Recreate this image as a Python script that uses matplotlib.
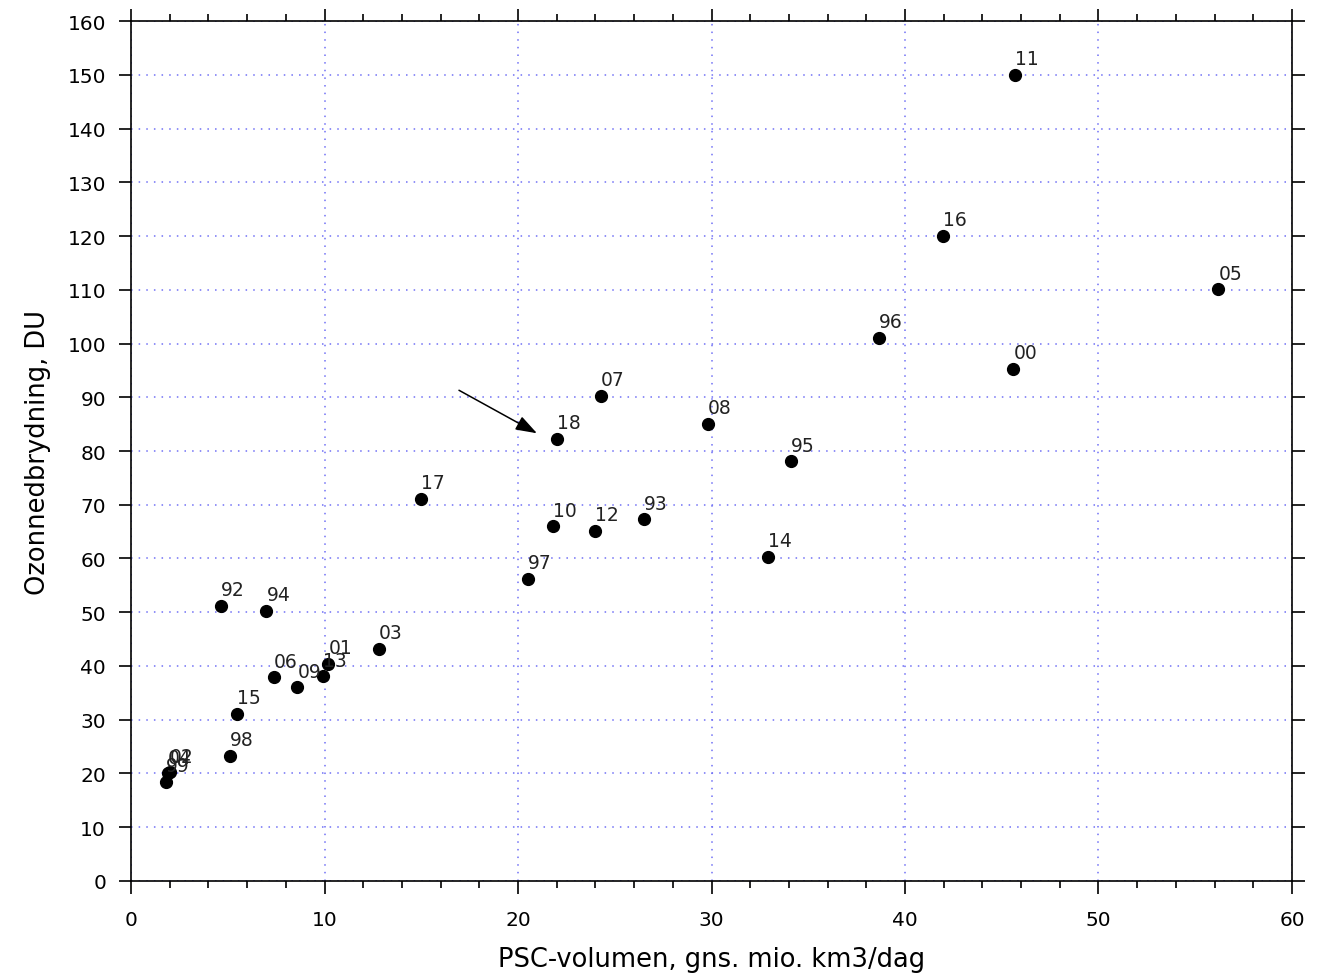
import matplotlib.pyplot as plt
from matplotlib.ticker import MultipleLocator

# aar, PSC-volumen og ozonnedbrydning
labels = ["11", "16", "05", "96", "00", "07", "08", "18", "95", "17",
          "10", "12", "93", "14", "97", "92", "94", "03", "01", "13",
          "06", "09", "15", "98", "02", "04", "99"]
psc = [45.7, 41.96, 56.2, 38.66, 45.6, 24.3, 29.8, 22.0, 34.1, 15.0,
       21.8, 24.0, 26.5, 32.9, 20.5, 4.65, 7.0, 12.8, 10.2, 9.9,
       7.4, 8.6, 5.5, 5.1, 2.0, 1.9, 1.8]
ozon = [150, 120, 110.1, 101, 95.3, 90.2, 85, 82.2, 78.1, 71.1,
        66, 65.1, 67.3, 60.3, 56.2, 51.2, 50.2, 43.2, 40.4, 38.1,
        37.9, 36, 31.1, 23.3, 20.2, 20.0, 18.4]

fig = plt.figure(figsize=(13.22, 9.79), dpi=100)
ax = fig.add_axes([0.0991, 0.0991, 0.8782, 0.8784])

ax.plot(psc, ozon, 'o', color='black', ms=8.5, zorder=3)
for lab, x, y in zip(labels, psc, ozon):
    ax.annotate(lab, (x, y), xytext=(0, 7.7), textcoords='offset points',
                ha='left', va='baseline', fontsize=13.5, color='#222222')

# pil mod 2018
ax.annotate("", xy=(20.98, 83.3), xytext=(16.95, 91.3),
            arrowprops=dict(arrowstyle='-|>,head_length=1.3,head_width=0.45',
                            color='black', lw=1.1, shrinkA=0, shrinkB=0))

ax.set_xlim(0, 60)
ax.set_ylim(0, 160)
ax.xaxis.set_major_locator(MultipleLocator(10))
ax.xaxis.set_minor_locator(MultipleLocator(2))
ax.yaxis.set_major_locator(MultipleLocator(10))
ax.tick_params(which='both', direction='out', top=True, right=True,
               labelsize=14.5, width=1.2)
ax.tick_params(which='major', length=9)
ax.tick_params(axis='x', which='major', pad=12)
ax.tick_params(axis='y', which='major', pad=9)
ax.tick_params(which='minor', length=5)
for s in ax.spines.values():
    s.set_linewidth(1.2)

ax.grid(True, which='major', color='#7070f5', linestyle=(0, (1, 4)), lw=1.1)
ax.set_axisbelow(True)

ax.set_xlabel("PSC-volumen, gns. mio. km3/dag", fontsize=18.5, labelpad=12)
ax.set_ylabel("Ozonnedbrydning, DU", fontsize=18.5, labelpad=12)

fig.savefig("out.png", dpi=100)
